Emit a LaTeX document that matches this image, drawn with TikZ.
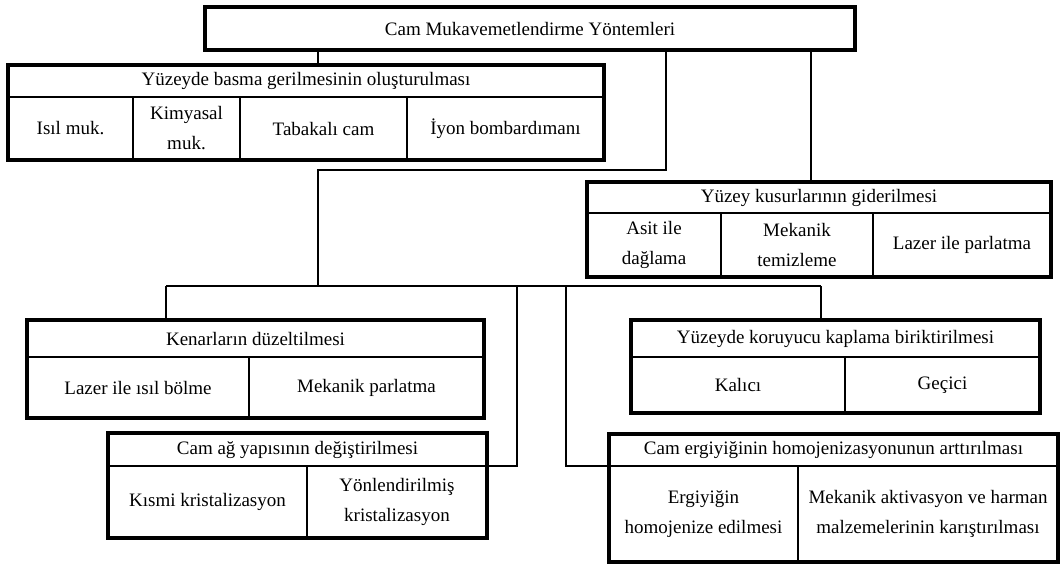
\documentclass[tikz,border=0pt]{standalone}
\usepackage{fontspec}
\setmainfont{Liberation Serif}
\newcommand{\boxfont}{\fontsize{19}{30}\selectfont}
\tikzset{
  cellbox/.style={draw, line width=2pt, inner sep=0pt, outer sep=0pt, align=center, font=\boxfont},
  outerbox/.style={draw, line width=4.5pt, inner sep=0pt, outer sep=0pt},
  conn/.style={draw, line width=2pt}
}
\begin{document}
\begin{tikzpicture}[x=1pt,y=-1pt]
\useasboundingbox (0,0) rectangle (1062,566);
% root
\node[cellbox, minimum width=650, minimum height=43] (rootin) at (530,28.5) {Cam Mukavemetlendirme Yöntemleri};
\node[outerbox, minimum width=650, minimum height=43] (root) at (530,28.5) {};
% group 1
\node[cellbox, minimum width=596, minimum height=32] (g1h) at (306,81) {Yüzeyde basma gerilmesinin oluşturulması};
\node[cellbox, minimum width=125, minimum height=63] (g1a) at (70.5,128.5) {Isıl muk.};
\node[cellbox, minimum width=107, minimum height=63] (g1b) at (186.5,128.5) {Kimyasal\\muk.};
\node[cellbox, minimum width=167, minimum height=63] (g1c) at (323.5,128.5) {Tabakalı cam};
\node[cellbox, minimum width=197, minimum height=63] (g1d) at (505.5,128.5) {İyon bombardımanı};
\node[outerbox, minimum width=596, minimum height=95] (g1) at (306,112.5) {};
% group 2
\node[cellbox, minimum width=464, minimum height=31] (g2h) at (819,197.5) {Yüzey kusurlarının giderilmesi};
\node[cellbox, minimum width=134, minimum height=64] (g2a) at (654,245) {Asit ile\\dağlama};
\node[cellbox, minimum width=152, minimum height=64] (g2b) at (797,245) {Mekanik\\temizleme};
\node[cellbox, minimum width=178, minimum height=64] (g2c) at (962,245) {Lazer ile parlatma};
\node[outerbox, minimum width=464, minimum height=95] (g2) at (819,229.5) {};
% group 3
\node[cellbox, minimum width=457, minimum height=37] (g3h) at (255.5,338.5) {Kenarların düzeltilmesi};
\node[cellbox, minimum width=222, minimum height=61] (g3a) at (138,387.5) {Lazer ile ısıl bölme};
\node[cellbox, minimum width=235, minimum height=61] (g3b) at (366.5,387.5) {Mekanik parlatma};
\node[outerbox, minimum width=457, minimum height=98] (g3) at (255.5,369) {};
% group 4
\node[cellbox, minimum width=409, minimum height=37] (g4h) at (835.5,338.5) {Yüzeyde koruyucu kaplama biriktirilmesi};
\node[cellbox, minimum width=214, minimum height=56] (g4a) at (738,385) {Kalıcı};
\node[cellbox, minimum width=195, minimum height=56] (g4b) at (942.5,385) {Geçici};
\node[outerbox, minimum width=409, minimum height=93] (g4) at (835.5,366.5) {};
% group 5
\node[cellbox, minimum width=379, minimum height=33] (g5h) at (297.5,449.5) {Cam ağ yapısının değiştirilmesi};
\node[cellbox, minimum width=199, minimum height=72] (g5a) at (207.5,502) {Kısmi kristalizasyon};
\node[cellbox, minimum width=180, minimum height=72] (g5b) at (397,502) {Yönlendirilmiş\\kristalizasyon};
\node[outerbox, minimum width=379, minimum height=105] (g5) at (297.5,485.5) {};
% group 6
\node[cellbox, minimum width=449, minimum height=32] (g6h) at (833.5,450) {Cam ergiyiğinin homojenizasyonunun arttırılması};
\node[cellbox, minimum width=189, minimum height=96] (g6a) at (703.5,514) {Ergiyiğin\\homojenize edilmesi};
\node[cellbox, minimum width=260, minimum height=96] (g6b) at (928,514) {Mekanik aktivasyon ve harman\\malzemelerinin karıştırılması};
\node[outerbox, minimum width=449, minimum height=128] (g6) at (833.5,498) {};
% junction coordinates
\coordinate (j1) at (318,0);
\coordinate (bend) at (666,170);
\coordinate (jA) at (318,170);
\coordinate (j2) at (811,0);
\coordinate (busL) at (166,286);
\coordinate (busR) at (821,286);
\coordinate (c5) at (517,466);
\coordinate (c6) at (566,466);
% connectors
\draw[conn] (root.south -| j1) -- (g1.north -| j1);
\draw[conn] (root.south -| bend) -- (bend) -- (jA) -- (jA |- busL);
\draw[conn] (root.south -| j2) -- (g2.north -| j2);
\draw[conn] (busL) -- (busR);
\draw[conn] (busL) -- (g3.north -| busL);
\draw[conn] (busR) -- (g4.north -| busR);
\draw[conn] (c5 |- busL) -- (c5) -- (g5h.south east);
\draw[conn] (c6 |- busL) -- (c6) -- (g6h.south west);
\end{tikzpicture}
\end{document}
